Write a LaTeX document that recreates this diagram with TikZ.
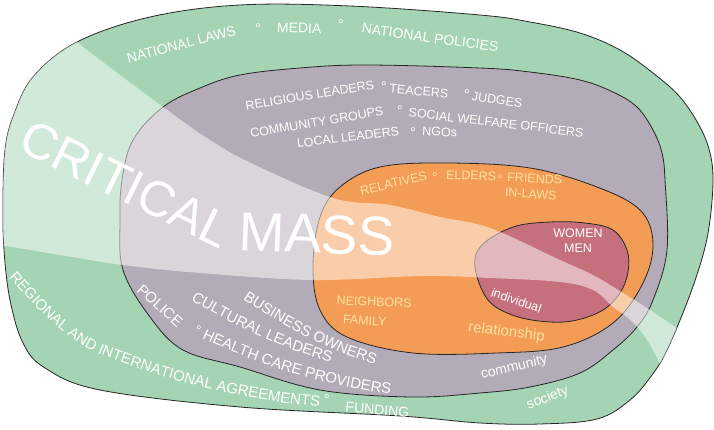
\documentclass[tikz,border=0pt]{standalone}
\usepackage{fontspec}
\setmainfont{Liberation Sans}
\usetikzlibrary{decorations.text}
\definecolor{socg}{HTML}{A4D4B4}
\definecolor{comg}{HTML}{B3ABB7}
\definecolor{relo}{HTML}{F39C56}
\definecolor{indr}{HTML}{C5707C}
\definecolor{paley}{HTML}{FFE2A0}
\tikzset{
  ringline/.style={line width=0.8pt, draw=black!85},
  wt/.style={text=white, inner sep=0pt, anchor=base},
  yt/.style={text=paley, inner sep=0pt, anchor=base},
  fa/.style={font=\fontsize{14}{16}\selectfont},
  fb/.style={font=\fontsize{12.5}{14}\selectfont},
  fc/.style={font=\fontsize{15}{17}\selectfont},
  odot/.style={text=white, inner sep=0pt, anchor=north, font=\fontsize{14}{16}\selectfont},
  ydot/.style={text=paley, inner sep=0pt, anchor=north, font=\fontsize{14}{16}\selectfont},
  bigtxt/.style={text=white, inner sep=0pt},
  curvtxt/.style={decorate, decoration={text along path, text color=white, text={|\fontsize{15}{17}\selectfont|#1}}},
}
\begin{document}
\begin{tikzpicture}[x=1pt,y=-1pt]
\useasboundingbox (0,0) rectangle (714,430);
% society
\path[fill=socg, ringline] plot[smooth cycle, tension=0.6] coordinates {(77,42) (150,17) (240,5) (350,6) (480,15) (530,22) (580,33) (620,50) (653,73) (680,97) (700,127) (710,153) (713,180) (710,220) (703,255) (688,300) (667,350) (652,375) (630,400) (597,419) (540,424) (480,423) (400,416) (240,407) (100,390) (45,368) (23,343) (10,300) (4,250) (3,200) (5,150) (13,117) (33,77)};
% community
\path[fill=comg, ringline] plot[smooth cycle, tension=0.6] coordinates {(163,107) (200,88) (240,75) (300,68) (365,65) (480,68) (530,72) (580,80) (613,92) (637,107) (653,130) (662,153) (665,180) (667,250) (653,300) (637,327) (613,350) (580,373) (530,387) (480,393) (411,397) (320,390) (240,367) (183,350) (150,317) (123,270) (120,220) (122,180) (133,140)};
% relationship
\path[fill=relo, ringline] plot[smooth cycle, tension=0.6] coordinates {(380,167) (447,163) (530,168) (597,187) (640,210) (653,243) (643,283) (613,323) (563,347) (497,353) (413,353) (347,337) (320,310) (313,267) (320,217) (340,187)};
% individual
\path[fill=indr, ringline] plot[smooth cycle, tension=0.6] coordinates {(475,267) (482,245) (513,227) (550,222) (585,223) (613,230) (627,250) (628,272) (620,293) (603,310) (577,320) (550,322) (515,316) (488,300)};
% critical mass band
\begin{scope}
\clip plot[smooth cycle, tension=0.6] coordinates {(77,42) (150,17) (240,5) (350,6) (480,15) (530,22) (580,33) (620,50) (653,73) (680,97) (700,127) (710,153) (713,180) (710,220) (703,255) (688,300) (667,350) (652,375) (630,400) (597,419) (540,424) (480,423) (400,416) (240,407) (100,390) (45,368) (23,343) (10,300) (4,250) (3,200) (5,150) (13,117) (33,77)};
\fill[white, opacity=0.5] plot[smooth, tension=0.6] coordinates {(30,0) (77,42) (163,107) (210,140) (251,163) (333,198) (390,205) (440,217) (490,228) (560,260) (593,275) (623,293) (647,308) (677,328) (720,356)}
  -- (740,430) -- (690,440)
  -- plot[smooth, tension=0.6] coordinates {(680,410) (665,375) (653,350) (640,330) (627,317) (613,307) (593,290) (560,282) (490,278) (423,276) (313,280) (200,273) (123,265) (60,255) (0,245) (-20,242)}
  -- (-20,0) -- cycle;
\end{scope}
% CRITICAL MASS
\node[bigtxt, font=\fontsize{50}{53}\selectfont, rotate=-26] (crit) at (126,184) {CRITICAL};
\node[bigtxt, font=\fontsize{55}{58}\selectfont, rotate=-2] (mass) at (317,234) {MASS};
% society texts
\node[wt, fa, rotate=14.5] (natlaws) at (182.5,49) {NATIONAL LAWS};
\node[odot] (o1) at (258,23.5) {°};
\node[wt, fa, rotate=-2] (media) at (299,33) {MEDIA};
\node[odot] (o2) at (341,19.5) {°};
\node[wt, fa, rotate=-8] (natpol) at (429.5,42.5) {NATIONAL POLICIES};
\path[curvtxt={REGIONAL AND INTERNATIONAL AGREEMENTS}]
  (9,277) .. controls (40,312) and (70,345) .. (110,358) .. controls (180,385) and (260,405) .. (380,412);
\node[odot] (o3) at (327,394.5) {°};
\node[wt, fa, rotate=-5] (funding) at (377,414.5) {FUNDING};
\node[wt, fa, rotate=21.5] (society) at (549,401.5) {society};
% community texts
\node[wt, fb, rotate=9.4] (relig) at (310.5,99.5) {RELIGIOUS LEADERS};
\node[odot] (o4) at (384,81.5) {°};
\node[wt, fb, rotate=-5] (teach) at (418.5,95.5) {TEACERS};
\node[odot] (o5) at (467,89.5) {°};
\node[wt, fb, rotate=-9] (judges) at (496.5,104) {JUDGES};
\node[wt, fb, rotate=9.8] (cgroups) at (317.5,126.5) {COMMUNITY GROUPS};
\node[odot] (o6) at (400,105.5) {°};
\node[wt, fb, rotate=-6.6] (swo) at (495.5,127) {SOCIAL WELFARE OFFICERS};
\node[wt, fb, rotate=7.2] (local) at (348.5,141.5) {LOCAL LEADERS};
\node[odot] (o7) at (413,127.5) {°};
\node[wt, fb, rotate=-3] (ngos) at (439.5,136) {NGOs};
\path[curvtxt={BUSINESS OWNERS}] (243,299) .. controls (285,327) and (328,352) .. (395,370);
\path[curvtxt={CULTURAL LEADERS}] (191,300) .. controls (232,324) and (285,352) .. (350,367);
\node[wt, fc, rotate=-42] (police) at (156.5,309.5) {POLICE};
\node[odot] (o8) at (199,325.5) {°};
\path[curvtxt={HEALTH CARE PROVIDERS}] (202,338) .. controls (260,365) and (330,390) .. (420,397);
\node[wt, fa, rotate=13] (commun) at (515,371) {community};
% relationship texts
\node[yt, fb, rotate=13] (relat) at (394.5,187.5) {RELATIVES};
\node[ydot] (o9) at (435,172.5) {°};
\node[yt, fb, rotate=-2] (elders) at (471,180) {ELDERS};
\node[ydot] (o10) at (500,174.5) {°};
\node[yt, fb, rotate=-3] (friends) at (534.5,183) {FRIENDS};
\node[yt, fb, rotate=-4] (inlaws) at (530.5,198.5) {IN-LAWS};
\node[yt, fb, rotate=-2] (neigh) at (374,306) {NEIGHBORS};
\node[yt, fb, rotate=-4] (family) at (364.5,325) {FAMILY};
\node[yt, fc, rotate=-7] (relship) at (506,336.5) {relationship};
% individual texts
\node[wt, fb] (women) at (578,238) {WOMEN};
\node[wt, fb] (men) at (578,252) {MEN};
\node[wt, fb, rotate=-19] (indiv) at (515,304.5) {individual};
\end{tikzpicture}
\end{document}
